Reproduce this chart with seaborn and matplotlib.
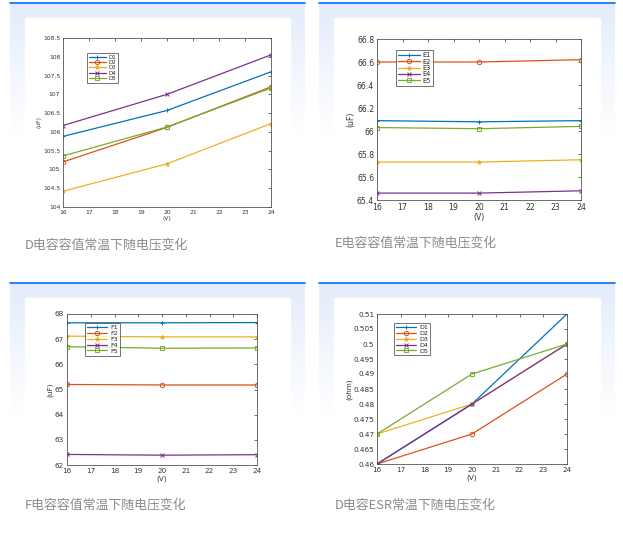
import numpy as np
import pandas as pd
import matplotlib
matplotlib.use("Agg")
import matplotlib.pyplot as plt
import seaborn as sns
from matplotlib.patches import Rectangle
from matplotlib.colors import LinearSegmentedColormap

sns.set_style("white")
plt.rcParams['font.family'] = ['DejaVu Sans']

# ---------------- data ----------------
volts = [16, 20, 24]

d_labels = ["D1", "D2", "D3", "D4", "D5"]
d1 = [105.88, 106.57, 107.60]
d2 = [105.20, 106.12, 107.20]
d3 = [104.42, 105.15, 106.22]
d4 = [106.17, 107.00, 108.05]
d5 = [105.36, 106.13, 107.17]

e_labels = ["E1", "E2", "E3", "E4", "E5"]
e1 = [66.09, 66.08, 66.09]
e2 = [66.60, 66.60, 66.62]
e3 = [65.73, 65.73, 65.75]
e4 = [65.46, 65.46, 65.48]
e5 = [66.03, 66.02, 66.04]

f_labels = ["F1", "F2", "F3", "F4", "F5"]
f1 = [67.65, 67.65, 67.66]
f2 = [65.20, 65.18, 65.18]
f3 = [67.12, 67.09, 67.09]
f4 = [62.42, 62.39, 62.41]
f5 = [66.70, 66.64, 66.65]

esr_labels = ["D1", "D2", "D3", "D4", "D5"]
esr1 = [0.46, 0.48, 0.51]
esr2 = [0.46, 0.47, 0.49]
esr3 = [0.47, 0.48, 0.50]
esr4 = [0.46, 0.48, 0.50]
esr5 = [0.47, 0.49, 0.50]

captions = ["D电容容值常温下随电压变化", "E电容容值常温下随电压变化",
            "F电容容值常温下随电压变化", "D电容ESR常温下随电压变化"]

colors = ["#0072BD", "#D95319", "#EDB120", "#7E2F8E", "#77AC30"]
markers = ["+", "o", "*", "x", "s"]

W, H = 623, 536
fig = plt.figure(figsize=(W / 100, H / 100), dpi=100)
fig.patch.set_facecolor("white")

# background decorations
bg = fig.add_axes([0, 0, 1, 1])
bg.set_xlim(0, W)
bg.set_ylim(H, 0)
bg.axis("off")
cmap = LinearSegmentedColormap.from_list("g", ["#e4ecfb", "#ffffff"])
grad = np.linspace(0, 1, 256).reshape(-1, 1)
for (x0, x1, y0) in [(10, 305, 3), (319, 615, 3), (10, 305, 283), (319, 615, 283)]:
    bg.imshow(grad, extent=(x0, x1, y0 + 132, y0), cmap=cmap, aspect="auto", zorder=0)
    bg.add_patch(Rectangle((x0 + 15, y0 + 15), (x1 - x0) - 30, 230, color="white", zorder=1))
    bg.plot([x0, x1], [y0 - 0.5, y0 - 0.5], color="#1677ff", lw=1.3, zorder=2)


def px_axes(l, r, t, b):
    return fig.add_axes([l / W, 1 - b / H, (r - l) / W, (b - t) / H])


panels = [
    dict(box=(63, 271, 38, 207), series=[d1, d2, d3, d4, d5], labels=d_labels,
         ylim=(104, 108.5), yticks=np.arange(104, 108.51, 0.5), ylabel="(uF)",
         fs=4.3, leg=(0.115, 0.91), lfs=4.0),
    dict(box=(377, 581, 39, 200), series=[e1, e2, e3, e4, e5], labels=e_labels,
         ylim=(65.4, 66.8), yticks=np.arange(65.4, 66.81, 0.2), ylabel="(uF)",
         fs=5.6, leg=(0.095, 0.93), lfs=4.8),
    dict(box=(67, 257, 314, 465), series=[f1, f2, f3, f4, f5], labels=f_labels,
         ylim=(62, 68), yticks=np.arange(62, 68.01, 1), ylabel="(uF)",
         fs=5.2, leg=(0.095, 0.94), lfs=4.6),
    dict(box=(377, 567, 314, 464), series=[esr1, esr2, esr3, esr4, esr5], labels=esr_labels,
         ylim=(0.46, 0.51), yticks=np.arange(0.46, 0.51001, 0.005), ylabel="(ohm)",
         fs=5.2, leg=(0.09, 0.94), lfs=4.6),
]

for p in panels:
    ax = px_axes(*p["box"])
    ax.set_facecolor("white")
    for vals, lab, c, m in zip(p["series"], p["labels"], colors, markers):
        kw = dict(mfc="none") if m in ("o", "s") else {}
        sns.lineplot(x=volts, y=vals, ax=ax, color=c, marker=m, markersize=3.2,
                     markeredgecolor=c, markeredgewidth=0.7, lw=0.9, label=lab, **kw)
    ax.set_xlim(16, 24)
    ax.set_ylim(*p["ylim"])
    ax.set_xticks(range(16, 25))
    ax.set_yticks(p["yticks"])
    ax.set_yticklabels([f"{v:g}" for v in np.round(p["yticks"], 4)])
    ax.tick_params(direction="in", length=2, width=0.5, labelsize=p["fs"],
                   colors="#333333", top=True, right=True, pad=2)
    for s in ax.spines.values():
        s.set_linewidth(0.6)
        s.set_color("#555555")
    ax.set_xlabel("(V)", fontsize=p["fs"], color="#333333", labelpad=1)
    ax.set_ylabel(p["ylabel"], fontsize=p["fs"], color="#333333", labelpad=1)
    leg = ax.legend(loc="upper left", bbox_to_anchor=p["leg"], fontsize=p["lfs"],
                    frameon=True, fancybox=False, edgecolor="#333333",
                    borderaxespad=0, handlelength=3.2, handletextpad=0.4,
                    labelspacing=0.05, borderpad=0.3)
    leg.get_frame().set_linewidth(0.6)

cap_pos = [(25, 245), (335, 243), (25, 505), (335, 505)]
for (x, y), txt in zip(cap_pos, captions):
    fig.text(x / W, 1 - y / H, txt, fontsize=9.3, color="#8c8c8c", va="center", ha="left",
             family=["Noto Sans CJK SC", "DejaVu Sans"])

fig.savefig("out.png", dpi=100, facecolor="white")
